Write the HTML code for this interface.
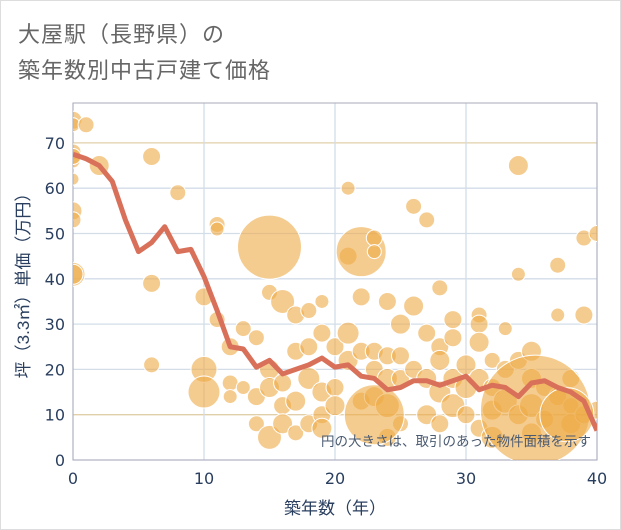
<!DOCTYPE html>
<html><head><meta charset="utf-8"><style>
body{margin:0;background:#fff;}
#wrap{position:relative;width:619px;height:528px;border:1px solid #ddd;background:#fff;overflow:hidden;font-family:"Liberation Sans","Noto Sans CJK JP",sans-serif;}
.title{position:absolute;left:17px;font-size:22px;color:#666;letter-spacing:1px;}
</style></head><body>
<div id="wrap">
<div class="title" style="top:16px">大屋駅（長野県）の</div>
<div class="title" style="top:52px">築年数別中古戸建て価格</div>
<svg id="chart" width="621" height="530" style="position:absolute;left:-1px;top:-1px"></svg>
</div>
<script>
const xTicks=[0,10,20,30,40];
const yTicks=[0,10,20,30,40,50,60,70];
const lineYears=[0,1,2,3,4,5,6,7,8,9,10,11,12,13,14,15,16,17,18,19,20,21,22,23,24,25,26,27,28,29,30,31,32,33,34,35,36,37,38,39,40];
const lineValues=[67.5,66.5,65,61.5,53,46,48,51.5,46,46.5,40.5,33,25,24.5,20.5,22,19,20,21,22.5,20.5,21,18.5,18,15.5,16,17.5,17.5,16.5,17.5,18.5,15.5,16.5,16,14,17,17.5,16,15,13,6.5];
const bubbleX=[0,0,0,0,0,0,0,0,0,0,1,2,6,6,6,8,10,10,10,11,11,11,12,12,12,13,13,14,14,14,15,15,15,15,15,16,16,16,16,17,17,17,17,18,18,18,18,19,19,19,19,19,20,20,20,21,21,21,21,22,22,22,22,23,23,23,23,23,24,24,24,24,24,25,25,25,25,26,26,26,27,27,27,27,28,28,28,28,28,29,29,29,29,30,30,30,31,31,31,31,31,32,32,32,32,33,33,33,34,34,34,34,35,35,35,35,36,36,37,37,37,38,38,38,39,39,39,40,40,23,35.3,37.7];
const bubbleY=[75,74,68,66,62,55,53,41,41,67,74,65,67,39,21,59,36,20,15,52,51,31,25,17,14,29,16,27,8,14,47,37,20,16,5,35,17,12,8,32,24,13,6,33,25,18,8,35,28,15,10,7,25,16,12,60,45,28,22,46,36,24,13,49,46,24,20,14,35,23,18,12,5,30,23,18,8,56,34,20,53,28,18,10,38,25,22,15,8,31,27,18,12,21,16,10,32,30,26,18,7,22,16,11,5,29,20,13,65,41,22,10,24,18,12,6,16,9,43,32,14,18,12,8,49,32,10,50,11,10,11,10];
const bubbleR=[9,7,8,7,6,9,8,12,10,8,8,10,9,9,8,8,9,13,16,8,7,8,9,8,7,8,7,8,8,9,32,8,10,10,12,12,9,9,10,9,9,10,8,8,9,11,9,7,9,10,9,10,9,9,10,7,9,11,10,25,9,9,9,8,7,9,9,10,9,9,10,12,9,10,9,9,8,8,10,9,8,9,10,10,8,9,10,11,9,9,9,10,12,10,11,9,8,9,10,10,9,8,9,10,11,7,9,12,10,7,9,10,10,10,12,10,9,9,8,7,9,9,8,10,8,9,9,8,9,30,55,27];
const svg=document.getElementById('chart');
const NS='http://www.w3.org/2000/svg';
const L=73,R=597,T=103,B=460;
const xs=v=>L+(v-0)/40*(R-L);
const ys=v=>B-v*4.53;
function mk(t,a){const e=document.createElementNS(NS,t);for(const k in a)e.setAttribute(k,a[k]);svg.appendChild(e);return e;}
yTicks.forEach(v=>{const g=mk('line',{x1:L,x2:R,y1:ys(v),y2:ys(v),stroke:(v==10||v==70)?'#e0cfa8':'#d3dde8','stroke-width':1.3});


const t=mk('text',{x:L-8,y:ys(v)+6,'text-anchor':'end','font-size':16,fill:'#2a3f5f','font-family':'DejaVu Sans, sans-serif'});t.textContent=v;

});
xTicks.forEach(v=>{const g=mk('line',{x1:xs(v),x2:xs(v),y1:T,y2:B,stroke:'#d3dde8','stroke-width':1.3});


const t=mk('text',{x:xs(v),y:B+24,'text-anchor':'middle','font-size':16,fill:'#2a3f5f','font-family':'DejaVu Sans, sans-serif'});t.textContent=v;

});
const frame=mk('rect',{x:L,y:T,width:R-L,height:B-T,fill:'none',stroke:'#aab',"stroke-width":1});


const cp=mk('clipPath',{id:'cp'});const cr=document.createElementNS(NS,'rect');cr.setAttribute('x',L);cr.setAttribute('y',T);cr.setAttribute('width',R-L);cr.setAttribute('height',B-T);cp.appendChild(cr);
const gb=mk('g',{'clip-path':'url(#cp)'});


bubbleX.forEach((x,i)=>{const c=document.createElementNS(NS,'circle');
c.setAttribute('cx',xs(x));c.setAttribute('cy',ys(bubbleY[i]));c.setAttribute('r',bubbleR[i]);
c.setAttribute('fill','rgba(238,170,70,0.6)');c.setAttribute('stroke','#fff');c.setAttribute('stroke-width','1');


gb.appendChild(c);});
const pts=lineYears.map((x,i)=>xs(x)+','+ys(lineValues[i])).join(' ');
const pl=mk('polyline',{points:pts,fill:'none',stroke:'#d9705a','stroke-width':5,'stroke-linejoin':'round','clip-path':'url(#cp)'});


const note=mk('text',{x:591,y:446,'text-anchor':'end','font-size':13.5,fill:'#4a5a70','font-family':'Liberation Sans, Noto Sans CJK JP, sans-serif'});note.textContent='円の大きさは、取引のあった物件面積を示す';


const xt=mk('text',{x:335,y:514,'text-anchor':'middle','font-size':17,fill:'#2a3f5f','font-family':'Liberation Sans, Noto Sans CJK JP, sans-serif'});xt.textContent='築年数（年）';


const yt=mk('text',{x:0,y:0,'text-anchor':'middle','font-size':17,fill:'#2a3f5f',transform:'translate(29,'+((T+B)/2)+') rotate(-90)','font-family':'Liberation Sans, Noto Sans CJK JP, sans-serif'});yt.textContent='坪（3.3㎡）単価（万円）';


</script>
</body></html>
